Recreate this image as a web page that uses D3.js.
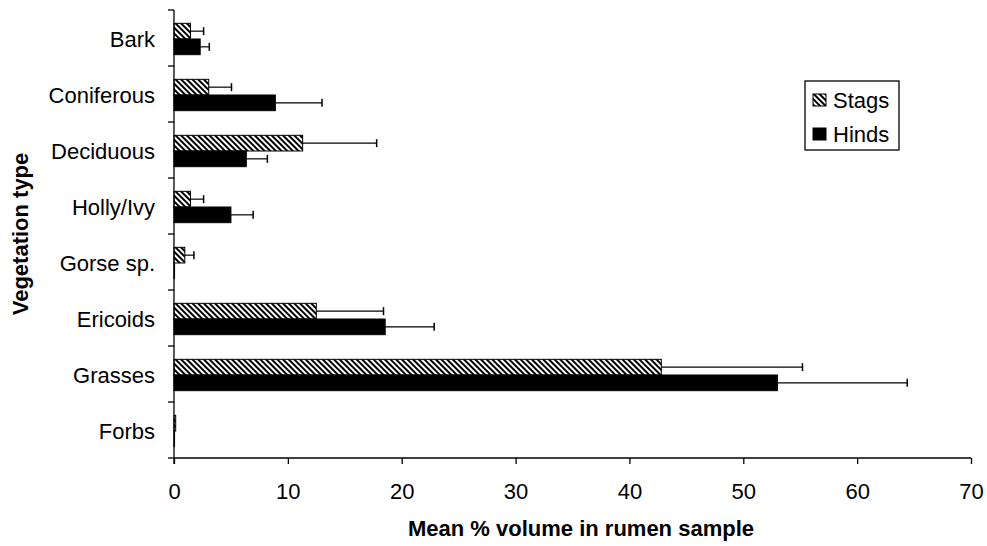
<!DOCTYPE html>
<html>
<head>
<meta charset="utf-8">
<script src="https://cdn.jsdelivr.net/npm/d3@7"></script>
<style>
  body { margin: 0; background: #fff; }
  svg text { font-family: "Liberation Sans", Arial, sans-serif; fill: #000; }
</style>
</head>
<body>
<div id="viz"></div>
<script>
// vegetation categories, top to bottom
const categories = ['Bark', 'Coniferous', 'Deciduous', 'Holly/Ivy', 'Gorse sp.', 'Ericoids', 'Grasses', 'Forbs'];
const seriesNames = ['Stags', 'Hinds'];
// mean % volume and error bar length
const stagsMean = [1.45, 3.05, 11.3, 1.45, 0.95, 12.5, 42.8, 0.15];
const stagsErr  = [1.15, 2.0, 6.5, 1.15, 0.8, 5.9, 12.4, 0.0];
const hindsMean = [2.3, 8.9, 6.35, 5.0, 0.05, 18.55, 53.0, 0.05];
const hindsErr  = [0.8, 4.1, 1.85, 1.95, 0.0, 4.3, 11.4, 0.0];
const xTicks = [0, 10, 20, 30, 40, 50, 60, 70];

const dimensions = {
  width: 987,
  height: 546,
  margin: { top: 10, right: 16, bottom: 88, left: 174 }
};
dimensions.boundedWidth = dimensions.width - dimensions.margin.left - dimensions.margin.right;
dimensions.boundedHeight = dimensions.height - dimensions.margin.top - dimensions.margin.bottom;

const svg = d3.select('#viz').append('svg')
  .attr('width', dimensions.width)
  .attr('height', dimensions.height);

// hatch pattern for stags
const defs = svg.append('defs');
const pat = defs.append('pattern')
  .attr('id', 'hatch')
  .attr('patternUnits', 'userSpaceOnUse')
  .attr('width', 4).attr('height', 4)
  .attr('patternTransform', 'rotate(-45)');
pat.append('rect').attr('width', 4).attr('height', 4).attr('fill', '#fff');
pat.append('rect').attr('width', 2).attr('height', 4).attr('fill', '#000');

const bounds = svg.append('g')
  .attr('transform', `translate(${dimensions.margin.left},${dimensions.margin.top})`);

const x = d3.scaleLinear().domain([0, 70]).range([0, dimensions.boundedWidth]);
const y = d3.scaleBand().domain(categories).range([0, dimensions.boundedHeight]).paddingInner(0.44).paddingOuter(0.22);
const ySub = d3.scaleBand().domain(seriesNames).range([0, y.bandwidth()]);

const rows = categories.map((c, i) => ({
  cat: c,
  values: [
    { s: 'Stags', v: stagsMean[i], e: stagsErr[i] },
    { s: 'Hinds', v: hindsMean[i], e: hindsErr[i] }
  ]
}));

const fills = { Stags: 'url(#hatch)', Hinds: '#000' };

const groups = bounds.selectAll('g.cat')
  .data(rows)
  .join('g')
  .attr('class', 'cat')
  .attr('transform', d => `translate(0,${y(d.cat) + 1})`);

groups.selectAll('rect')
  .data(d => d.values)
  .join('rect')
  .attr('x', 0)
  .attr('y', d => ySub(d.s))
  .attr('width', d => x(d.v))
  .attr('height', ySub.bandwidth())
  .attr('fill', d => fills[d.s])
  .attr('stroke', '#000')
  .attr('stroke-width', 1);

// error bars
const eb = groups.selectAll('g.err')
  .data(d => d.values.filter(v => v.e > 0))
  .join('g')
  .attr('class', 'err');
eb.append('line')
  .attr('x1', d => x(d.v)).attr('x2', d => x(d.v + d.e))
  .attr('y1', d => ySub(d.s) + ySub.bandwidth() / 2)
  .attr('y2', d => ySub(d.s) + ySub.bandwidth() / 2)
  .attr('stroke', '#000').attr('stroke-width', 1.2);
eb.append('line')
  .attr('x1', d => x(d.v + d.e)).attr('x2', d => x(d.v + d.e))
  .attr('y1', d => ySub(d.s) + ySub.bandwidth() / 2 - 4)
  .attr('y2', d => ySub(d.s) + ySub.bandwidth() / 2 + 4)
  .attr('stroke', '#000').attr('stroke-width', 1.5);

// x axis
const xAxis = bounds.append('g')
  .attr('transform', `translate(0,${dimensions.boundedHeight})`)
  .call(d3.axisBottom(x).tickValues(xTicks).tickSize(6).tickPadding(19));
xAxis.selectAll('text').style('font-size', '22px');
xAxis.selectAll('line, path').attr('stroke-width', 1.3);
xAxis.select('.domain').attr('d', `M0,0H${dimensions.boundedWidth}`);

// y axis with ticks between categories
const yAxis = bounds.append('g');
yAxis.append('line')
  .attr('x1', 0).attr('x2', 0).attr('y1', 0).attr('y2', dimensions.boundedHeight + 6)
  .attr('stroke', '#000').attr('stroke-width', 1.3);
const step = dimensions.boundedHeight / categories.length;
yAxis.selectAll('line.tk')
  .data(d3.range(categories.length + 1))
  .join('line')
  .attr('class', 'tk')
  .attr('x1', -6).attr('x2', 0)
  .attr('y1', d => d * step).attr('y2', d => d * step)
  .attr('stroke', '#000').attr('stroke-width', 1.3);
yAxis.selectAll('text')
  .data(categories)
  .join('text')
  .attr('x', -19)
  .attr('y', d => y(d) + y.bandwidth() / 2 + 1)
  .attr('dy', '0.35em')
  .attr('text-anchor', 'end')
  .style('font-size', '22px')
  .text(d => d);

// axis titles
svg.append('text')
  .attr('x', 581)
  .attr('y', 536)
  .attr('text-anchor', 'middle')
  .style('font-size', '22px')
  .style('font-weight', 'bold')
  .text('Mean % volume in rumen sample');

svg.append('text')
  .attr('transform', `translate(28,234) rotate(-90)`)
  .attr('text-anchor', 'middle')
  .style('font-size', '22px')
  .style('font-weight', 'bold')
  .text('Vegetation type');

// legend
const legend = svg.append('g').attr('transform', 'translate(805,81)');
legend.append('rect')
  .attr('width', 94).attr('height', 69)
  .attr('fill', '#fff').attr('stroke', '#000').attr('stroke-width', 1.3);
seriesNames.forEach((s, i) => {
  const gy = 19 + i * 34;
  legend.append('rect')
    .attr('x', 8).attr('y', gy - 6).attr('width', 13).attr('height', 12)
    .attr('fill', fills[s]).attr('stroke', '#000');
  legend.append('text')
    .attr('x', 28).attr('y', gy).attr('dy', '0.35em')
    .style('font-size', '22px')
    .text(s);
});
</script>
</body>
</html>
